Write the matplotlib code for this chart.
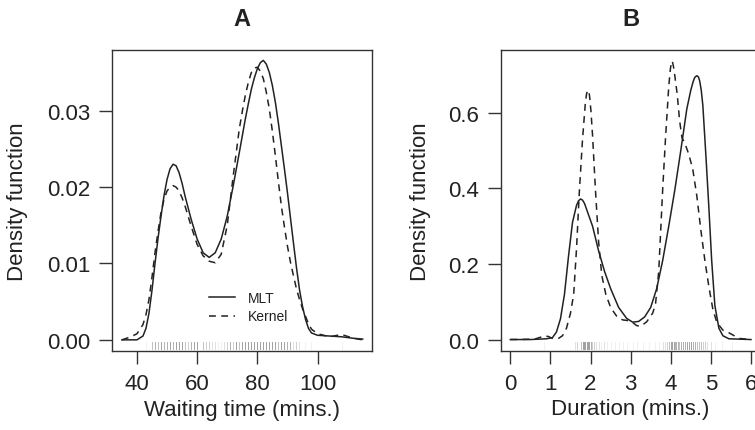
import matplotlib
matplotlib.use("Agg")
import matplotlib.pyplot as plt

plt.rcParams['font.family'] = ['Liberation Sans', 'DejaVu Sans']

# panel A: waiting time densities
wait_x = [35, 38, 40, 42, 43, 44, 45, 46, 47, 48, 49, 50, 51, 52, 53, 54, 55, 56, 58,
          60, 62, 64, 66, 68, 70, 72, 74, 75, 76, 77, 78, 79, 80, 81, 82, 83, 84, 85,
          86, 87, 88, 89, 90, 91, 92, 93, 94, 95, 96, 97, 98, 100, 104, 108, 112, 115]
wait_mlt = [0.0, 0.0, 0.0, 0.0005, 0.0015, 0.0035, 0.0065, 0.0100, 0.0133, 0.0162,
            0.0189, 0.0210, 0.0224, 0.0230, 0.0228, 0.0219, 0.0205, 0.0188, 0.0158,
            0.0132, 0.0114, 0.0108, 0.0114, 0.0132, 0.0162, 0.0202, 0.0245, 0.0267,
            0.0289, 0.0309, 0.0328, 0.0343, 0.0355, 0.0363, 0.0366, 0.0361, 0.0350,
            0.0333, 0.0311, 0.0284, 0.0254, 0.0224, 0.0193, 0.0160, 0.0127, 0.0095,
            0.0066, 0.0044, 0.0027, 0.0015, 0.0009, 0.0006, 0.0005, 0.0004, 0.0002,
            0.0001]
wait_kernel = [0.0, 0.0004, 0.0008, 0.0020, 0.0033, 0.0053, 0.0082, 0.0114, 0.0142,
               0.0167, 0.0184, 0.0195, 0.0200, 0.0202, 0.0200, 0.0195, 0.0186, 0.0175,
               0.0149, 0.0125, 0.0110, 0.0103, 0.0101, 0.0112, 0.0150, 0.0215, 0.0276,
               0.0299, 0.0320, 0.0337, 0.0350, 0.0356, 0.0357, 0.0352, 0.0342, 0.0324,
               0.0302, 0.0273, 0.0241, 0.0207, 0.0175, 0.0148, 0.0123, 0.0102, 0.0084,
               0.0067, 0.0053, 0.0041, 0.0031, 0.0021, 0.0014, 0.0008, 0.0004, 0.0007,
               0.0002, 0.0]

# panel B: duration densities
dur_mlt_x = [0.0, 0.5, 0.9, 1.05, 1.15, 1.25, 1.35, 1.45, 1.55, 1.65, 1.7, 1.75, 1.8,
             1.85, 1.95, 2.05, 2.2, 2.35, 2.5, 2.7, 2.9, 3.05, 3.2, 3.35, 3.5, 3.65,
             3.8, 3.95, 4.1, 4.25, 4.4, 4.5, 4.56, 4.6, 4.65, 4.69, 4.72, 4.76, 4.8,
             4.88, 4.95, 5.02, 5.1, 5.2, 5.3, 5.45, 6.0]
dur_mlt = [0.0, 0.0, 0.002, 0.005, 0.02, 0.055, 0.12, 0.22, 0.31, 0.355, 0.367, 0.372,
           0.369, 0.36, 0.33, 0.30, 0.235, 0.18, 0.135, 0.085, 0.056, 0.046, 0.048,
           0.06, 0.085, 0.135, 0.21, 0.30, 0.395, 0.50, 0.61, 0.66, 0.683, 0.694, 0.698,
           0.695, 0.685, 0.66, 0.62, 0.48, 0.35, 0.21, 0.09, 0.03, 0.01, 0.002, 0.0]
dur_ker_x = [0.0, 0.6, 0.75, 0.85, 0.95, 1.05, 1.2, 1.3, 1.4, 1.5, 1.58, 1.65, 1.72,
             1.8, 1.87, 1.9, 1.93, 1.96, 1.98, 2.01, 2.05, 2.12, 2.2, 2.28, 2.38, 2.5,
             2.65, 2.8, 2.95, 3.05, 3.15, 3.25, 3.4, 3.55, 3.62, 3.7, 3.8, 3.87, 3.95,
             3.99, 4.02, 4.05, 4.08, 4.16, 4.22, 4.28, 4.35, 4.45, 4.55, 4.65, 4.75,
             4.85, 4.95, 5.05, 5.15, 5.3, 5.45, 5.55, 5.7, 6.0]
dur_kernel = [0.0, 0.001, 0.006, 0.010, 0.008, 0.003, 0.003, 0.010, 0.030, 0.070,
              0.120, 0.240, 0.390, 0.530, 0.625, 0.650, 0.660, 0.655, 0.640, 0.605,
              0.540, 0.400, 0.260, 0.170, 0.120, 0.085, 0.062, 0.052, 0.050, 0.045,
              0.037, 0.035, 0.047, 0.070, 0.094, 0.180, 0.400, 0.534, 0.670, 0.715,
              0.737, 0.732, 0.715, 0.650, 0.580, 0.534, 0.520, 0.490, 0.450, 0.380,
              0.290, 0.210, 0.140, 0.080, 0.045, 0.025, 0.018, 0.012, 0.003, 0.0]

# rug marks (observed values and how many times each occurs)
rug_wait = [43, 45, 46, 47, 48, 49, 50, 51, 52, 53, 54, 55, 56, 57, 58, 59, 60, 62, 63,
            64, 65, 66, 67, 68, 69, 70, 71, 72, 73, 74, 75, 76, 77, 78, 79, 80, 81, 82,
            83, 84, 85, 86, 87, 88, 89, 90, 91, 92, 93, 94, 96, 98, 108]
rug_wait_n = [1, 4, 5, 4, 6, 5, 5, 6, 5, 6, 9, 6, 4, 3, 5, 7, 6, 4, 3, 3, 2, 2, 1, 1, 2,
              3, 5, 3, 8, 4, 9, 13, 10, 15, 10, 8, 8, 12, 14, 10, 9, 6, 4, 6, 6, 5, 5,
              2, 3, 2, 1, 1, 1]
rug_dur = [0.83, 1.6, 1.67, 1.75, 1.8, 1.83, 1.87, 1.9, 1.93, 1.97, 2.0, 2.03, 2.08,
           2.13, 2.2, 2.27, 2.33, 2.4, 2.5, 2.6, 2.7, 2.8, 2.9, 3.05, 3.15, 3.3, 3.45,
           3.6, 3.7, 3.8, 3.85, 3.9, 3.95, 4.0, 4.03, 4.07, 4.1, 4.13, 4.17, 4.2, 4.25,
           4.3, 4.35, 4.4, 4.45, 4.5, 4.55, 4.6, 4.65, 4.7, 4.75, 4.8, 4.85, 4.9, 5.0,
           5.1, 5.28, 5.53]
rug_dur_n = [1, 2, 3, 4, 6, 8, 8, 9, 7, 6, 5, 3, 3, 2, 2, 1, 2, 1, 1, 1, 1, 1, 1, 1, 1,
             1, 1, 1, 1, 2, 2, 3, 4, 6, 7, 6, 5, 5, 5, 4, 5, 5, 5, 6, 6, 6, 5, 5, 4, 4,
             4, 3, 3, 2, 2, 1, 1, 1]

ink = "#222222"
fig = plt.figure(figsize=(7.55, 4.31), dpi=100)
axA = fig.add_axes([0.1487, 0.1833, 0.3444, 0.6991])
axB = fig.add_axes([0.6632, 0.1840, 0.3442, 0.6984])


def rug(ax, vals, counts):
    for v, n in zip(vals, counts):
        ax.axvline(v, ymin=0.007, ymax=0.03, color="#888888",
                   alpha=min(0.8, 0.13 * n), lw=0.7)


def style(ax, title, xlabel, xticks, yticks, yfmt, ylab_x):
    for s in ax.spines.values():
        s.set_color("#333333")
        s.set_linewidth(1.0)
    ax.tick_params(direction="out", length=9.4, width=1.0, color="#333333",
                   labelsize=16, labelcolor=ink, pad=6.5)
    ax.set_xticks(xticks)
    ax.set_yticks(yticks)
    ax.set_yticklabels([yfmt.format(t) for t in yticks])
    ax.set_xlabel(xlabel, fontsize=16, color=ink, va="center")
    ax.xaxis.set_label_coords(0.5, -0.1925)
    ax.set_ylabel("Density function", fontsize=16, color=ink, va="center")
    ax.yaxis.set_label_coords(ylab_x, 0.5)
    ax.set_title(title, fontsize=17, fontweight="bold", color=ink, y=1.102,
                 va="center", pad=0)


axA.plot(wait_x, wait_mlt, color=ink, lw=1.1, label="MLT")
axA.plot(wait_x, wait_kernel, color=ink, lw=1.1, dashes=(4.5, 3.5), label="Kernel")
rug(axA, rug_wait, rug_wait_n)
axA.set_xlim(31.8, 118.2)
axA.set_ylim(-0.00146, 0.0380)
style(axA, "A", "Waiting time (mins.)", [40, 60, 80, 100],
      [0.0, 0.01, 0.02, 0.03], "{:.2f}", -0.3627)
axA.legend(loc="center left", bbox_to_anchor=(0.372, 0.146), frameon=False,
           fontsize=10, handlelength=1.9, handletextpad=0.9, labelspacing=0.35,
           borderpad=0, borderaxespad=0, labelcolor=ink)

axB.plot(dur_mlt_x, dur_mlt, color=ink, lw=1.1)
axB.plot(dur_ker_x, dur_kernel, color=ink, lw=1.1, dashes=(4.5, 3.5))
rug(axB, rug_dur, rug_dur_n)
axB.set_xlim(-0.24, 6.24)
axB.set_ylim(-0.0295, 0.767)
style(axB, "B", "Duration (mins.)", [0, 1, 2, 3, 4, 5, 6],
      [0.0, 0.2, 0.4, 0.6], "{:.1f}", -0.310)

fig.savefig("out.png", dpi=100)
